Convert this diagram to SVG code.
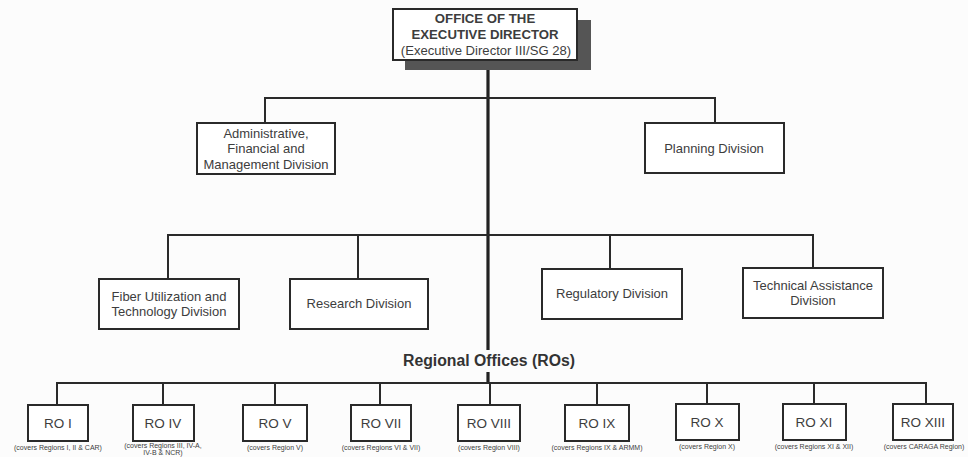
<svg xmlns="http://www.w3.org/2000/svg" width="968" height="457" viewBox="0 0 968 457">
<style>
.bx{fill:#fff;stroke:#2a2a2a;stroke-width:2}
.ln{fill:none;stroke:#2a2a2a;stroke-width:2}
.tr{fill:none;stroke:#222;stroke-width:3.2}
text{font-family:"Liberation Sans",Arial,sans-serif;fill:#3d3d3d;text-anchor:middle}
.t{font-size:13px}
.h{font-size:13.2px;font-weight:bold}
.s{font-size:13.1px}
.ro{font-size:13.5px}
.c{font-size:7px}
.lbl{font-size:15.8px;font-weight:bold;fill:#333}
</style>
<rect width="968" height="457" fill="#fcfcfc"/>
<g id="connectors">
<path class="tr" d="M488 70 V350 M488 372 V384"/>
<path class="ln" d="M265 123 V98 H715 V123"/>
<path class="ln" d="M168 279 V235 H813 V268 M358 235 V279 M610 235 V269"/>
<path class="ln" d="M57 405 V383 H926 V404 M163 383 V405 M275 383 V405 M380 383 V405 M490 383 V405 M597 383 V405 M707 383 V404 M814 383 V404"/>
</g>
<g id="exec">
<rect x="405" y="20" width="186" height="50" fill="#555"/>
<rect class="bx" x="393" y="9" width="184" height="51"/>
<text class="h" x="485" y="23">OFFICE OF THE</text>
<text class="h" x="485" y="38.5">EXECUTIVE DIRECTOR</text>
<text class="s" x="486" y="54.5">(Executive Director III/SG 28)</text>
</g>
<g id="admin">
<rect class="bx" x="197" y="123" width="138" height="51"/>
<text class="t" x="266" y="137.5">Administrative,</text>
<text class="t" x="266" y="153">Financial and</text>
<text class="t" x="266" y="168.5">Management Division</text>
</g>
<g id="planning">
<rect class="bx" x="645" y="123" width="139" height="50"/>
<text class="t" x="714" y="152.5">Planning Division</text>
</g>
<g id="fiber">
<rect class="bx" x="99" y="279" width="140" height="50"/>
<text class="t" x="169" y="300.5">Fiber Utilization and</text>
<text class="t" x="169" y="315.5">Technology Division</text>
</g>
<g id="research">
<rect class="bx" x="290" y="279" width="138" height="50"/>
<text class="t" x="359" y="307.5">Research Division</text>
</g>
<g id="regulatory">
<rect class="bx" x="542" y="269" width="140" height="50"/>
<text class="t" x="612" y="297.5">Regulatory Division</text>
</g>
<g id="technical">
<rect class="bx" x="743" y="268" width="140" height="50"/>
<text class="t" x="813" y="289.5">Technical Assistance</text>
<text class="t" x="813" y="304.5">Division</text>
</g>
<g id="ro-label">
<text class="lbl" x="489" y="365.5">Regional Offices (ROs)</text>
</g>
<g id="ro1"><rect class="bx" x="28" y="405" width="60" height="36"/><text class="ro" x="58" y="428">RO I</text><text class="c" x="58" y="450">(covers Regions I, II &amp; CAR)</text></g>
<g id="ro4"><rect class="bx" x="133" y="405" width="61" height="36"/><text class="ro" x="163" y="428">RO IV</text><text class="c" x="163" y="448">(covers Regions III, IV-A,</text><text class="c" x="163" y="455">IV-B &amp; NCR)</text></g>
<g id="ro5"><rect class="bx" x="243" y="405" width="64" height="36"/><text class="ro" x="275" y="428">RO V</text><text class="c" x="275" y="450">(covers Region V)</text></g>
<g id="ro7"><rect class="bx" x="351" y="405" width="60" height="36"/><text class="ro" x="381" y="428">RO VII</text><text class="c" x="381" y="450">(covers Regions VI &amp; VII)</text></g>
<g id="ro8"><rect class="bx" x="458" y="405" width="62" height="36"/><text class="ro" x="489" y="428">RO VIII</text><text class="c" x="489" y="450">(covers Region VIII)</text></g>
<g id="ro9"><rect class="bx" x="565" y="405" width="64" height="36"/><text class="ro" x="597" y="428">RO IX</text><text class="c" x="597" y="450">(covers Regions IX &amp; ARMM)</text></g>
<g id="ro10"><rect class="bx" x="676" y="404" width="63" height="36"/><text class="ro" x="707" y="427">RO X</text><text class="c" x="707" y="449">(covers Region X)</text></g>
<g id="ro11"><rect class="bx" x="783" y="404" width="63" height="36"/><text class="ro" x="814" y="427">RO XI</text><text class="c" x="814" y="449">(covers Regions XI &amp; XII)</text></g>
<g id="ro13"><rect class="bx" x="893" y="404" width="60" height="36"/><text class="ro" x="923" y="427">RO XIII</text><text class="c" x="924" y="449">(covers CARAGA Region)</text></g>
</svg>
